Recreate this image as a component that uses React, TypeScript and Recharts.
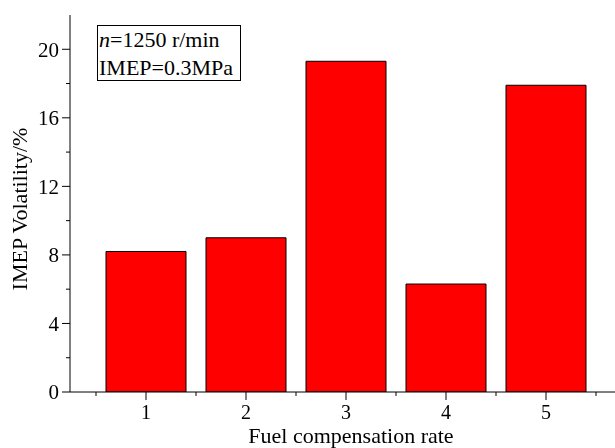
import React from "react";
import { BarChart, Bar, XAxis, YAxis, Label } from "recharts";

const rates = [1, 2, 3, 4, 5];
const volatility = [8.2, 9.0, 19.3, 6.3, 17.9];
const xTicks = [0.5, 1, 1.5, 2, 2.5, 3, 3.5, 4, 4.5, 5, 5.5];
const yTicks = [0, 2, 4, 6, 8, 10, 12, 14, 16, 18, 20];

const data = rates.map((r, i) => ({ rate: r, value: volatility[i] }));

const FONT = '"Liberation Serif", "Times New Roman", serif';

function XTick(props: any) {
    const { x, y, payload } = props;
    const major = Number.isInteger(payload.value);
    return (
        <g>
            <line x1={x} x2={x} y1={y} y2={y + (major ? 8 : 4)} stroke="#000" />
            {major && (
                <text x={x} y={y + 27} textAnchor="middle" fontFamily={FONT} fontSize={20} fill="#000">
                    {payload.value}
                </text>
            )}
        </g>
    );
}

function YTick(props: any) {
    const { x, y, payload } = props;
    const major = payload.value % 4 === 0;
    return (
        <g>
            <line x1={x - (major ? 8 : 4)} x2={x} y1={y} y2={y} stroke="#000" />
            {major && (
                <text x={x - 11} y={y} dy="0.35em" textAnchor="end" fontFamily={FONT} fontSize={21} fill="#000">
                    {payload.value}
                </text>
            )}
        </g>
    );
}

export default function App() {
    return (
        <div style={{ position: "fixed", left: 0, top: 0, width: 615, height: 448 }}>
            <BarChart
                width={615}
                height={448}
                data={data}
                margin={{ top: 15, right: 0, bottom: 0, left: 0 }}
            >
                <XAxis
                    type="number"
                    dataKey="rate"
                    domain={[0.24, 5.69]}
                    ticks={xTicks}
                    interval={0}
                    allowDataOverflow
                    height={56}
                    tickSize={0}
                    tickMargin={0}
                    tick={<XTick />}
                    axisLine={{ stroke: "#000" }}
                >
                    <Label
                        content={() => (
                            <text x={351} y={443} textAnchor="middle" fontFamily={FONT} fontSize={22} fill="#000">
                                Fuel compensation rate
                            </text>
                        )}
                    />
                </XAxis>
                <YAxis
                    type="number"
                    domain={[0, 22]}
                    ticks={yTicks}
                    interval={0}
                    allowDataOverflow
                    width={70}
                    tickSize={0}
                    tickMargin={0}
                    tick={<YTick />}
                    axisLine={{ stroke: "#000" }}
                >
                    <Label
                        content={() => (
                            <text
                                x={27}
                                y={209}
                                transform="rotate(-90 27 209)"
                                textAnchor="middle"
                                fontFamily={FONT}
                                fontSize={22}
                                fill="#000"
                            >
                                IMEP Volatility/%
                            </text>
                        )}
                    />
                </YAxis>
                <Bar
                    dataKey="value"
                    fill="#FF0000"
                    stroke="#000"
                    strokeWidth={1}
                    barSize={80}
                    isAnimationActive={false}
                />
            </BarChart>
            <svg
                width={615}
                height={448}
                style={{ position: "absolute", left: 0, top: 0, pointerEvents: "none" }}
            >
                <rect x={97.5} y={25.5} width={143} height={55} fill="#fff" stroke="#000" />
                <text x={99} y={47} fontFamily={FONT} fontSize={22} fill="#000">
                    <tspan fontStyle="italic">n</tspan>=1250 r/min
                </text>
                <text x={99} y={75} fontFamily={FONT} fontSize={22} fill="#000">
                    IMEP=0.3MPa
                </text>
            </svg>
        </div>
    );
}
